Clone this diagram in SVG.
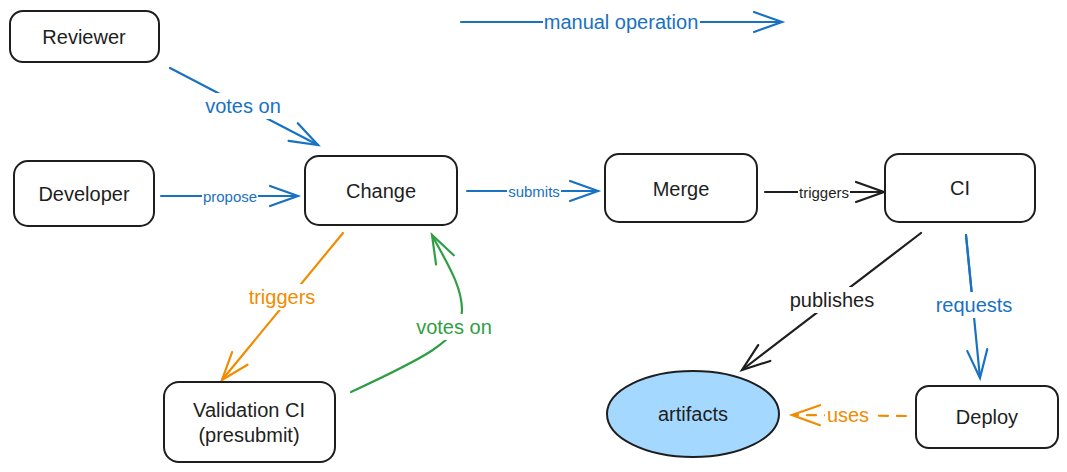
<svg xmlns="http://www.w3.org/2000/svg" width="1067" height="472" viewBox="0 0 1067 472">
<style>
text{font-family:"Liberation Sans","Noto Sans",sans-serif;}
.node rect,.node ellipse{fill:#ffffff;stroke:#1e1e1e;stroke-width:2;}
.node text{font-size:20px;fill:#1e1e1e;text-anchor:middle;dominant-baseline:central;}
.c{fill:none;stroke-width:2.2;stroke-linecap:round;}
.blue{stroke:#1971c2;}
.orange{stroke:#f08c00;}
.green{stroke:#2f9e44;}
.black{stroke:#1e1e1e;}
.lbl{text-anchor:middle;dominant-baseline:central;}
.bg{fill:#ffffff;}
</style>
<defs>
<marker id="ab" markerUnits="userSpaceOnUse" viewBox="-32 -16 36 32" markerWidth="36" markerHeight="32" refX="0" refY="0" orient="auto"><path d="M-28 -10 L0 0 L-28 10" fill="none" stroke="#1971c2" stroke-width="2.2" stroke-linecap="round"/></marker>
<marker id="ao" markerUnits="userSpaceOnUse" viewBox="-32 -16 36 32" markerWidth="36" markerHeight="32" refX="0" refY="0" orient="auto"><path d="M-28 -10 L0 0 L-28 10" fill="none" stroke="#f08c00" stroke-width="2.2" stroke-linecap="round"/></marker>
<marker id="ag" markerUnits="userSpaceOnUse" viewBox="-32 -16 36 32" markerWidth="36" markerHeight="32" refX="0" refY="0" orient="auto"><path d="M-28 -10 L0 0 L-28 10" fill="none" stroke="#2f9e44" stroke-width="2.2" stroke-linecap="round"/></marker>
<marker id="ak" markerUnits="userSpaceOnUse" viewBox="-32 -16 36 32" markerWidth="36" markerHeight="32" refX="0" refY="0" orient="auto"><path d="M-28 -10 L0 0 L-28 10" fill="none" stroke="#1e1e1e" stroke-width="2.2" stroke-linecap="round"/></marker>
</defs>
<rect width="1067" height="472" fill="#ffffff"/>

<g id="connectors">
  <!-- legend -->
  <line class="c blue" x1="461" y1="22" x2="782" y2="22" marker-end="url(#ab)" stroke-width="3"/>
  <rect class="bg" x="543" y="11" width="157" height="22"/>
  <text class="lbl" x="621" y="22" font-size="20" fill="#1971c2">manual operation</text>

  <!-- Reviewer -> Change -->
  <line class="c blue" x1="170" y1="68" x2="318" y2="145" marker-end="url(#ab)" stroke-width="2.6"/>
  <rect class="bg" x="203" y="93" width="80" height="26"/>
  <text class="lbl" x="243" y="106" font-size="20" fill="#1971c2">votes on</text>

  <!-- Developer -> Change -->
  <line class="c blue" x1="161" y1="196" x2="298" y2="196" marker-end="url(#ab)"/>
  <rect class="bg" x="202" y="187" width="56" height="18"/>
  <text class="lbl" x="230" y="196" font-size="15" fill="#1971c2">propose</text>

  <!-- Change -> Merge -->
  <line class="c blue" x1="467" y1="191" x2="598" y2="191" marker-end="url(#ab)"/>
  <rect class="bg" x="507" y="182" width="54" height="18"/>
  <text class="lbl" x="534" y="191" font-size="15" fill="#1971c2">submits</text>

  <!-- Merge -> CI -->
  <line class="c black" x1="765" y1="192" x2="884" y2="192" marker-end="url(#ak)" stroke-width="2.6"/>
  <rect class="bg" x="798" y="183" width="52" height="18"/>
  <text class="lbl" x="824" y="192" font-size="15" fill="#1e1e1e">triggers</text>

  <!-- Change -> Validation CI -->
  <line class="c orange" x1="343" y1="233" x2="222" y2="380" marker-end="url(#ao)"/>
  <rect class="bg" x="247" y="284" width="70" height="26"/>
  <text class="lbl" x="282" y="297" font-size="20" fill="#f08c00">triggers</text>

  <!-- Validation CI -> Change -->
  <path class="c green" d="M351 392 C420 360 462 340 462 310 C462 285 445 260 432 235" marker-end="url(#ag)" stroke-width="2.6"/>
  <rect class="bg" x="414" y="314" width="80" height="26"/>
  <text class="lbl" x="454" y="327" font-size="20" fill="#2f9e44">votes on</text>

  <!-- CI -> artifacts -->
  <line class="c black" x1="921" y1="233" x2="742" y2="370" marker-end="url(#ak)"/>
  <rect class="bg" x="788" y="287" width="88" height="26"/>
  <text class="lbl" x="832" y="300" font-size="20" fill="#1e1e1e">publishes</text>

  <!-- CI -> Deploy -->
  <line class="c blue" x1="966" y1="235" x2="980" y2="378" marker-end="url(#ab)"/>
  <line class="c blue" x1="966" y1="235" x2="972" y2="295" stroke-width="3.5"/>
  <rect class="bg" x="934" y="292" width="80" height="26"/>
  <text class="lbl" x="974" y="305" font-size="20" fill="#1971c2">requests</text>

  <!-- Deploy -> artifacts -->
  <line class="c orange" x1="906" y1="416" x2="792" y2="415" marker-end="url(#ao)" stroke-dasharray="9 9"/>
  <rect class="bg" x="825" y="403" width="46" height="24"/>
  <text class="lbl" x="848" y="415" font-size="20" fill="#f08c00">uses</text>
</g>

<g id="reviewer" class="node">
  <rect x="10" y="11" width="149" height="51" rx="13"/>
  <text x="84" y="37">Reviewer</text>
</g>
<g id="developer" class="node">
  <rect x="14" y="161" width="140" height="65" rx="14"/>
  <text x="84" y="194">Developer</text>
</g>
<g id="change" class="node">
  <rect x="305" y="156" width="152" height="69" rx="14"/>
  <text x="381" y="191">Change</text>
</g>
<g id="merge" class="node">
  <rect x="605" y="154" width="152" height="68" rx="14"/>
  <text x="681" y="189">Merge</text>
</g>
<g id="ci" class="node">
  <rect x="885" y="154" width="150" height="68" rx="14"/>
  <text x="960" y="188">CI</text>
</g>
<g id="validation-ci" class="node">
  <rect x="164" y="382" width="171" height="80" rx="15"/>
  <text x="249" y="410">Validation CI</text>
  <text x="249" y="435">(presubmit)</text>
</g>
<g id="artifacts" class="node">
  <ellipse cx="693" cy="414" rx="86" ry="43" style="fill:#a5d8ff"/>
  <text x="693" y="414">artifacts</text>
</g>
<g id="deploy" class="node">
  <rect x="916" y="386" width="142" height="62" rx="13"/>
  <text x="987" y="417">Deploy</text>
</g>
</svg>
